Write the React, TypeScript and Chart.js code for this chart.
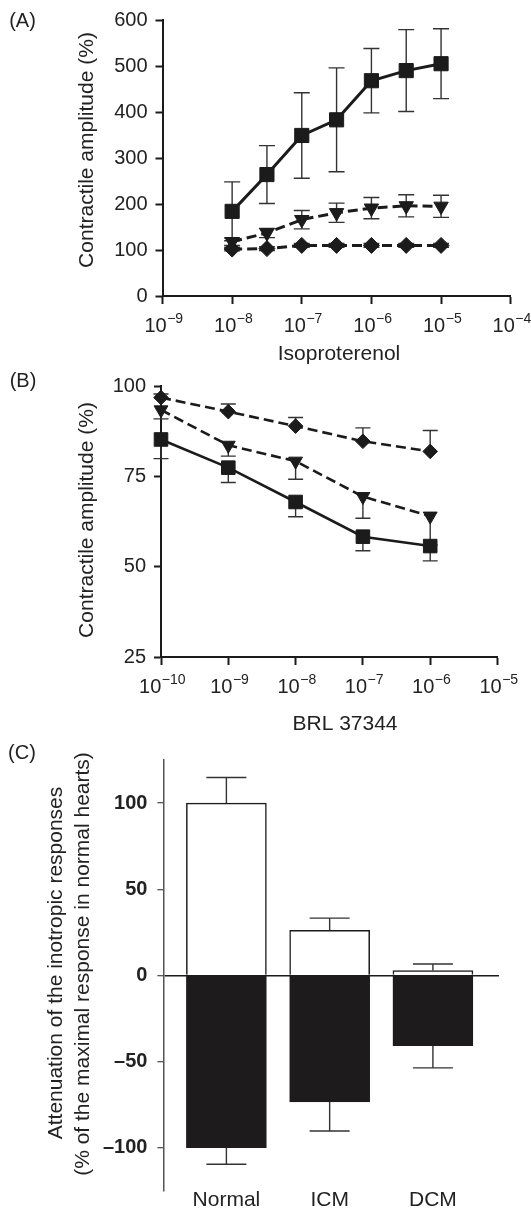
import React, { useEffect, useRef } from 'react';
import { Chart, registerables } from 'chart.js';

Chart.register(...registerables);

const FONT = '"Liberation Sans", Arial, Helvetica, sans-serif';
const INK = '#1b1b1b';
const TEXT = '#222222';
const ERR = '#333333';

// ---------- Panel A: Isoproterenol ----------
const isoConc = [1e-8, 3.16e-8, 1e-7, 3.16e-7, 1e-6, 3.16e-6, 1e-5];
const isoSquare = [184, 264, 349, 383, 468, 490, 505];
const isoSquareErr = [64, 63, 93, 113, 70, 89, 76];
const isoTriangle = [118, 137, 166, 181, 191, 196, 195];
const isoTriangleErr = [8, 10, 20, 21, 23, 24, 24];
const isoDiamond = [102, 103, 110, 110, 110, 110, 110];
const isoDiamondErr = [4, 4, 4, 4, 4, 4, 4];
const isoXExponents = [-9, -8, -7, -6, -5, -4];
const isoYTicks = [0, 100, 200, 300, 400, 500, 600];

// ---------- Panel B: BRL 37344 ----------
const brlConc = [1e-10, 1e-9, 1e-8, 1e-7, 1e-6];
const brlSquare = [85.2, 77.4, 67.9, 58.3, 55.7];
const brlSquareErrDown = [5.3, 4.1, 4.1, 3.9, 4.1];
const brlTriangle = [93.4, 83.6, 79.2, 69.4, 64.0];
const brlTriangleErrDown = [2.5, 3, 5, 6, 8];
const brlDiamond = [96.8, 92.9, 88.9, 84.7, 81.9];
const brlDiamondErrUp = [1, 2.1, 2.4, 3.7, 5.8];
const brlXExponents = [-10, -9, -8, -7, -6, -5];
const brlYTicks = [25, 50, 75, 100];

// ---------- Panel C: attenuation ----------
const groups = ['Normal', 'ICM', 'DCM'];
const whiteBars = [100, 26.1, 2.8];
const whiteErrUp = [14.8, 7.1, 3.8];
const blackBars = [-100, -73.5, -40.8];
const blackErrDown = [9.6, 16.8, 12.9];
const cYTicks = [-100, -50, 0, 50, 100];

type TextItem = { text: string; x: number; y: number; size: number; rotate?: number; weight?: string };

function textPlugin(items: TextItem[]) {
  return {
    id: 'panelTexts',
    afterDraw(chart: any) {
      const ctx = chart.ctx;
      items.forEach((t) => {
        ctx.save();
        ctx.fillStyle = TEXT;
        ctx.font = `${t.weight || 'normal'} ${t.size}px ${FONT}`;
        ctx.textAlign = 'center';
        ctx.textBaseline = 'middle';
        ctx.translate(t.x, t.y);
        if (t.rotate) ctx.rotate(t.rotate);
        ctx.fillText(t.text, 0, 0);
        ctx.restore();
      });
    },
  };
}

function expTickPlugin(exps: number[], baseOffset: number, supRaise: number) {
  return {
    id: 'expTicks',
    afterDraw(chart: any) {
      const { ctx, chartArea } = chart;
      const xs = chart.scales.x;
      ctx.save();
      ctx.fillStyle = TEXT;
      ctx.textBaseline = 'alphabetic';
      ctx.textAlign = 'left';
      exps.forEach((e) => {
        const px = xs.getPixelForValue(Math.pow(10, e));
        const base = '10';
        const sup = '\u2212' + Math.abs(e);
        ctx.font = `20px ${FONT}`;
        const w1 = ctx.measureText(base).width;
        ctx.font = `14px ${FONT}`;
        const w2 = ctx.measureText(sup).width;
        const x0 = px - (w1 + w2) / 2 + 1;
        const y0 = chartArea.bottom + baseOffset;
        ctx.font = `20px ${FONT}`;
        ctx.fillText(base, x0, y0);
        ctx.font = `14px ${FONT}`;
        ctx.fillText(sup, x0 + w1 + 0.5, y0 - supRaise);
      });
      ctx.restore();
    },
  };
}

const errorBarPlugin = {
  id: 'errorBars',
  beforeDatasetsDraw(chart: any) {
    const ctx = chart.ctx;
    const yScale = chart.scales.y;
    chart.data.datasets.forEach((ds: any, i: number) => {
      if (!ds.errUp && !ds.errDown) return;
      const meta = chart.getDatasetMeta(i);
      ctx.save();
      ctx.strokeStyle = ERR;
      ctx.lineWidth = ds.errWidth || 1.4;
      meta.data.forEach((el: any, j: number) => {
        const raw = ds.data[j];
        const v = typeof raw === 'number' ? raw : raw.y;
        const x = el.x;
        const half = (ds.capWidth || 14) / 2;
        const seg = (end: number) => {
          const yv = yScale.getPixelForValue(v);
          const ye = yScale.getPixelForValue(end);
          ctx.beginPath();
          ctx.moveTo(x, yv);
          ctx.lineTo(x, ye);
          ctx.moveTo(x - half, ye);
          ctx.lineTo(x + half, ye);
          ctx.stroke();
        };
        if (ds.errUp) seg(v + ds.errUp[j]);
        if (ds.errDown) seg(v - ds.errDown[j]);
      });
      ctx.restore();
    });
  },
};

function series(xs: number[], ys: number[], extra: any) {
  return {
    data: xs.map((x, i) => ({ x, y: ys[i] })),
    borderColor: INK,
    backgroundColor: INK,
    pointBackgroundColor: INK,
    pointBorderColor: INK,
    pointBorderWidth: 1,
    tension: 0,
    clip: false,
    ...extra,
  };
}

type LogPanel = {
  W: number;
  H: number;
  left: number;
  right: number;
  top: number;
  bottom: number;
  xMin: number;
  xMax: number;
  exps: number[];
  yMin: number;
  yMax: number;
  yTicks: number[];
  datasets: any[];
  texts: TextItem[];
};

function makeLogChart(canvas: HTMLCanvasElement, p: LogPanel) {
  return new Chart(canvas, {
    type: 'line',
    data: { datasets: p.datasets },
    options: {
      responsive: false,
      animation: false,
      events: [],
      devicePixelRatio: 1,
      layout: { padding: { left: 0, top: p.top, right: p.W - p.right, bottom: 0 } },
      plugins: { legend: { display: false }, tooltip: { enabled: false } },
      scales: {
        x: {
          type: 'logarithmic',
          min: p.xMin,
          max: p.xMax,
          afterBuildTicks: (s: any) => {
            s.ticks = p.exps.map((e) => ({ value: Math.pow(10, e) }));
          },
          afterFit: (s: any) => {
            s.height = p.H - p.bottom;
          },
          ticks: { display: false },
          grid: { display: true, drawOnChartArea: false, drawTicks: true, tickLength: 8, tickWidth: 2, tickColor: INK },
          border: { display: true, color: INK, width: 2 },
        },
        y: {
          type: 'linear',
          min: p.yMin,
          max: p.yMax,
          afterBuildTicks: (s: any) => {
            s.ticks = p.yTicks.map((v) => ({ value: v }));
          },
          afterFit: (s: any) => {
            s.width = p.left;
          },
          ticks: { font: { family: FONT, size: 20 }, color: TEXT, padding: 8 },
          grid: { display: true, drawOnChartArea: false, drawTicks: true, tickLength: 7, tickWidth: 2, tickColor: INK },
          border: { display: true, color: INK, width: 2 },
        },
      },
    } as any,
    plugins: [errorBarPlugin, expTickPlugin(p.exps, 36, 9), textPlugin(p.texts)],
  });
}

function makeA(canvas: HTMLCanvasElement) {
  return makeLogChart(canvas, {
    W: 531,
    H: 366,
    left: 162.5,
    right: 510.7,
    top: 14.3,
    bottom: 296,
    xMin: 1e-9,
    xMax: 1e-4,
    exps: isoXExponents,
    yMin: 0,
    yMax: 600,
    yTicks: isoYTicks,
    datasets: [
      series(isoConc, isoSquare, { borderWidth: 3, pointStyle: 'rect', pointRadius: 10, errUp: isoSquareErr, errDown: isoSquareErr, capWidth: 16 }),
      series(isoConc, isoTriangle, { borderWidth: 3, borderDash: [10, 5], pointStyle: 'triangle', pointRotation: 180, pointRadius: 8.3, errUp: isoTriangleErr, errDown: isoTriangleErr, capWidth: 16 }),
      series(isoConc, isoDiamond, { borderWidth: 3, borderDash: [10, 5], pointStyle: 'rectRot', pointRadius: 8, errUp: isoDiamondErr, errDown: isoDiamondErr, capWidth: 16 }),
    ],
    texts: [
      { text: '(A)', x: 22.5, y: 21, size: 20 },
      { text: 'Contractile amplitude (%)', x: 87, y: 150, size: 21, rotate: -Math.PI / 2 },
      { text: 'Isoproterenol', x: 339, y: 354, size: 21 },
    ],
  });
}

function makeB(canvas: HTMLCanvasElement) {
  return makeLogChart(canvas, {
    W: 531,
    H: 372,
    left: 161,
    right: 497.5,
    top: 19.5,
    bottom: 291,
    xMin: 1e-10,
    xMax: 1e-5,
    exps: brlXExponents,
    yMin: 25,
    yMax: 100,
    yTicks: brlYTicks,
    datasets: [
      series(brlConc, brlSquare, { borderWidth: 2.6, pointStyle: 'rect', pointRadius: 9.6, errDown: brlSquareErrDown, capWidth: 15 }),
      series(brlConc, brlTriangle, { borderWidth: 2.6, borderDash: [10, 5], pointStyle: 'triangle', pointRotation: 180, pointRadius: 8, errDown: brlTriangleErrDown, capWidth: 15 }),
      series(brlConc, brlDiamond, { borderWidth: 2.6, borderDash: [10, 5], pointStyle: 'rectRot', pointRadius: 7.3, errUp: brlDiamondErrUp, capWidth: 15 }),
    ],
    texts: [
      { text: '(B)', x: 23, y: 15, size: 20 },
      { text: 'Contractile amplitude (%)', x: 87, y: 154, size: 21, rotate: -Math.PI / 2 },
      { text: 'BRL 37344', x: 345, y: 358, size: 21 },
    ],
  });
}

function makeC(canvas: HTMLCanvasElement) {
  const W = 531;
  const H = 477;
  const left = 163.4;
  const right = 499;
  const top = 15.25;
  const bottom = 452.75;
  return new Chart(canvas, {
    type: 'bar',
    data: {
      datasets: [
        {
          data: groups.map((_, i) => ({ x: i + 1, y: whiteBars[i] })),
          backgroundColor: '#ffffff',
          borderColor: INK,
          borderWidth: 1.5,
          barThickness: 80,
          grouped: false,
          errUp: whiteErrUp,
          capWidth: 40,
        },
        {
          data: groups.map((_, i) => ({ x: i + 1, y: blackBars[i] })),
          backgroundColor: '#1d1b1c',
          borderColor: '#1d1b1c',
          borderWidth: 1,
          barThickness: 80,
          grouped: false,
          errDown: blackErrDown,
          capWidth: 40,
        },
      ] as any,
    },
    options: {
      responsive: false,
      animation: false,
      events: [],
      devicePixelRatio: 1,
      layout: { padding: { left: 0, top, right: W - right, bottom: 0 } },
      plugins: { legend: { display: false }, tooltip: { enabled: false } },
      scales: {
        x: {
          type: 'linear',
          min: 0.39,
          max: 3.64,
          offset: false,
          afterBuildTicks: (s: any) => {
            s.ticks = groups.map((_, i) => ({ value: i + 1 }));
          },
          afterFit: (s: any) => {
            s.height = H - bottom;
          },
          ticks: {
            autoSkip: false,
            maxRotation: 0,
            padding: -1,
            font: { family: FONT, size: 21, lineHeight: 1 },
            color: TEXT,
            callback: (v: any) => groups[Math.round(Number(v)) - 1] ?? '',
          },
          grid: { display: false, drawTicks: false, offset: false },
          border: { display: false },
        },
        y: {
          type: 'linear',
          min: -125,
          max: 125,
          afterBuildTicks: (s: any) => {
            s.ticks = cYTicks.map((v) => ({ value: v }));
          },
          afterFit: (s: any) => {
            s.width = left;
          },
          ticks: {
            font: { family: FONT, size: 20, weight: 'bold' },
            color: TEXT,
            padding: 10,
            callback: (v: any) => (Number(v) < 0 ? '\u2013' + Math.abs(Number(v)) : String(v)),
          },
          grid: {
            display: true,
            drawOnChartArea: true,
            drawTicks: true,
            tickLength: 6,
            tickWidth: 1.2,
            tickColor: '#444444',
            lineWidth: 1.4,
            color: (c: any) => (c.tick && c.tick.value === 0 ? INK : 'rgba(0,0,0,0)'),
          },
          border: { display: true, color: '#555555', width: 1.5 },
        },
      },
    } as any,
    plugins: [
      errorBarPlugin,
      textPlugin([
        { text: '(C)', x: 22, y: 15, size: 20 },
        { text: 'Attenuation of the inotropic responses', x: 56, y: 225, size: 21, rotate: -Math.PI / 2 },
        { text: '(% of the maximal response in normal hearts)', x: 83, y: 226, size: 21, rotate: -Math.PI / 2 },
      ]),
    ],
  });
}

export default function App() {
  const aRef = useRef<HTMLCanvasElement>(null);
  const bRef = useRef<HTMLCanvasElement>(null);
  const cRef = useRef<HTMLCanvasElement>(null);

  useEffect(() => {
    const charts = [makeA(aRef.current!), makeB(bRef.current!), makeC(cRef.current!)];
    return () => charts.forEach((c) => c.destroy());
  }, []);

  return (
    <div style={{ position: 'absolute', left: 0, top: 0, width: 531, height: 1215, background: '#ffffff' }}>
      <canvas ref={aRef} width={531} height={366} style={{ position: 'absolute', left: 0, top: 0 }} />
      <canvas ref={bRef} width={531} height={372} style={{ position: 'absolute', left: 0, top: 366 }} />
      <canvas ref={cRef} width={531} height={477} style={{ position: 'absolute', left: 0, top: 738 }} />
    </div>
  );
}
